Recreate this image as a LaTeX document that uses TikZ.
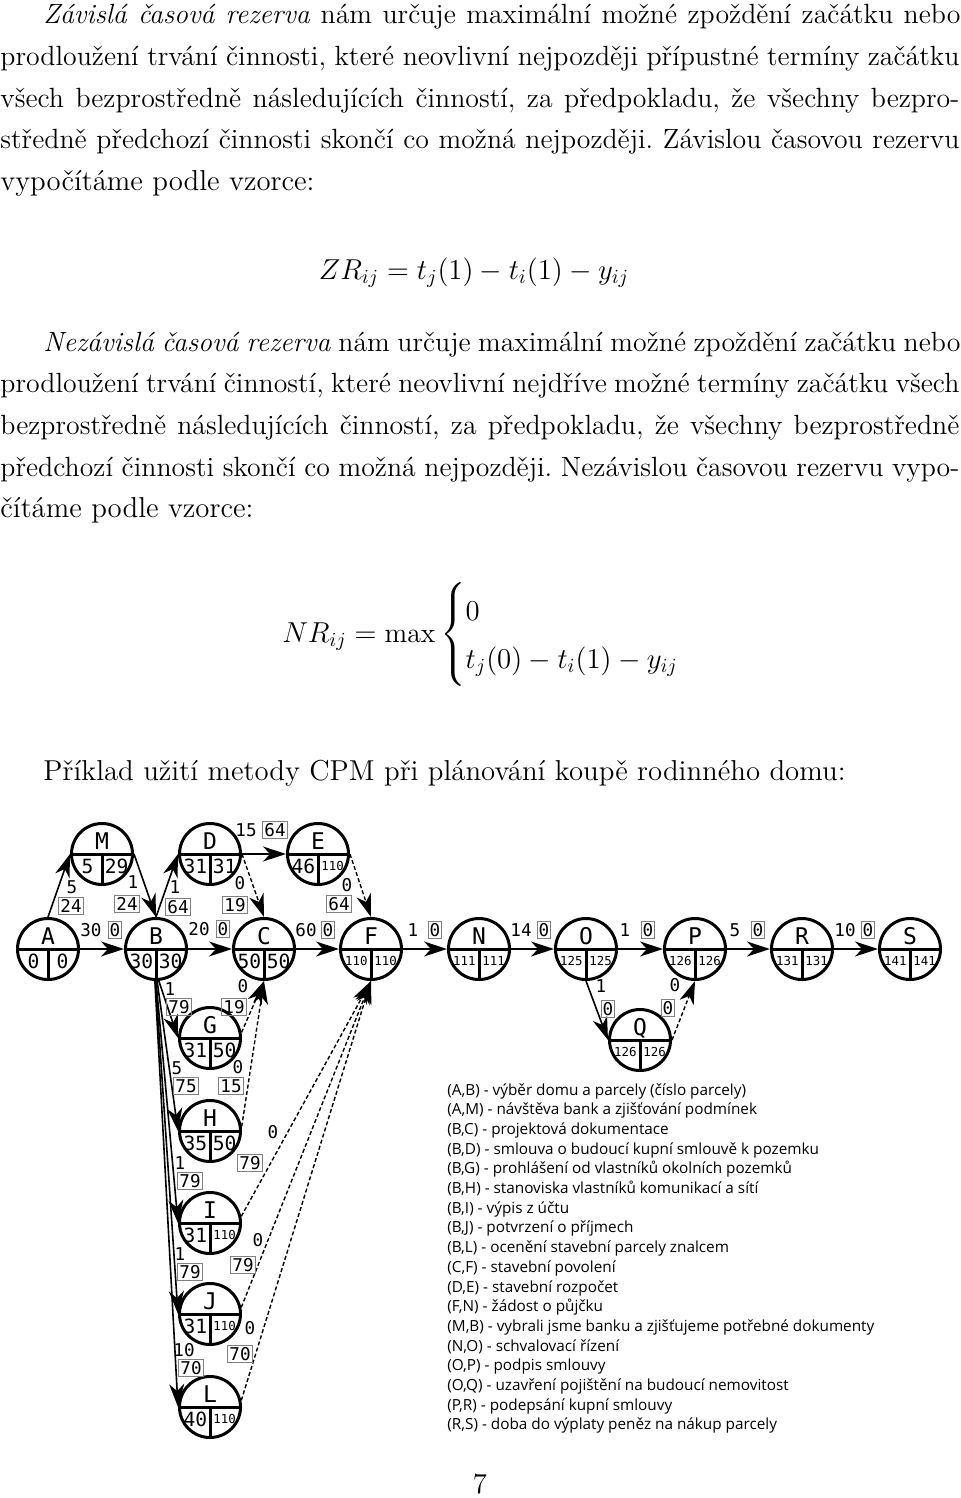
\documentclass[tikz,border=0pt]{standalone}
\usepackage{amsmath}
\usepackage{fontspec}
\newfontfamily\dvm{DejaVu Sans Mono}
\newfontfamily\osans{Open Sans}
\usetikzlibrary{arrows.meta,calc}
\newcommand\sn{\fontsize{6.2}{7}\selectfont}
\newcommand\cpmn[6]{%
  \node[cpm] (#1) at (#2,#3) {};
  \draw[cpmline] (#1.west) -- (#1.east) (#1.center) -- (#1.south);
  \node[letr] (#1l) at ([yshift=6.3pt]#1.center) {#4};
  \node[num] (#1e) at ([xshift=-7.3pt,yshift=-6pt]#1.center) {#5};
  \node[num] (#1t) at ([xshift=7.3pt,yshift=-6pt]#1.center) {#6};
}
\tikzset{
 txt/.style={anchor=base west, inner sep=0pt, font=\frenchspacing\fontsize{14.4}{20}\selectfont},
 jtxt/.style={anchor=base west, inner sep=0pt, font=\frenchspacing\fontsize{13.9}{20}\selectfont},
 cpm/.style={circle, draw, line width=1.5pt, minimum size=30.5pt, inner sep=0pt},
 cpmline/.style={line width=1.5pt},
 letr/.style={font=\dvm\fontsize{11.5}{12}\selectfont, inner sep=0pt, text depth=0pt},
 num/.style={font=\dvm\fontsize{9.8}{11}\selectfont, inner sep=0pt, text depth=0pt},
 lab/.style={font=\dvm\fontsize{8.8}{10}\selectfont, inner sep=0pt, text depth=0pt},
 blab/.style={lab, draw=black!50, line width=0.5pt, inner xsep=0.8pt, inner ysep=1.2pt, text height=6.5pt},
 arr/.style={line width=0.8pt, -{Stealth[length=11.5pt,width=7.5pt,inset=3.5pt]}},
 darr/.style={arr, line width=0.7pt, dash pattern=on 2pt off 1.2pt},
 leg/.style={anchor=base west, inner sep=0pt, font=\osans\fontsize{7.65}{9}\selectfont},
}
\begin{document}
\begin{tikzpicture}[x=0.5pt,y=-0.5pt]
\useasboundingbox (0,0) rectangle (960,1498);
% paragraph 1
\node[jtxt] (p1a) at (43,24) {\makebox[458.5pt][s]{\textit{Závislá časová rezerva} nám určuje maximální možné zpoždění začátku nebo}};
\node[jtxt] (p1b) at (0,66) {\makebox[479.5pt][s]{prodloužení trvání činnosti, které neovlivní nejpozději přípustné termíny začátku}};
\node[jtxt] (p1c) at (0,108) {\makebox[479.5pt][s]{všech bezprostředně následujících činností, za předpokladu, že všechny bezpro-}};
\node[jtxt] (p1d) at (0,149) {\makebox[479.5pt][s]{středně předchozí činnosti skončí co možná nejpozději. Závislou časovou rezervu}};
\node[txt] (p1e) at (0,191) {vypočítáme podle vzorce:};
\node[txt, anchor=base] (f1) at (474,279) {$ZR_{ij} = t_j(1) - t_i(1) - y_{ij}$};
% paragraph 2
\node[jtxt] (p2a) at (43,351) {\makebox[458.5pt][s]{\textit{Nezávislá časová rezerva} nám určuje maximální možné zpoždění začátku nebo}};
\node[jtxt] (p2b) at (0,392) {\makebox[479.5pt][s]{prodloužení trvání činností, které neovlivní nejdříve možné termíny začátku všech}};
\node[jtxt] (p2c) at (0,434) {\makebox[479.5pt][s]{bezprostředně následujících činností, za předpokladu, že všechny bezprostředně}};
\node[jtxt] (p2d) at (0,476) {\makebox[479.5pt][s]{předchozí činnosti skončí co možná nejpozději. Nezávislou časovou rezervu vypo-}};
\node[txt] (p2e) at (0,517) {čítáme podle vzorce:};
\node[jtxt] (f2) at (282,642) {$NR_{ij} = \max\begin{cases}0\\ t_j(0) - t_i(1) - y_{ij}\end{cases}$};
\node[txt] (ex) at (43,780) {Příklad užití metody CPM při plánování koupě rodinného domu:};
\node[txt, anchor=base] (pg) at (480,1493) {7};
% network nodes
\cpmn{A}{48}{949}{A}{0}{0}
\cpmn{M}{102}{854}{M}{5}{29}
\cpmn{B}{156}{949}{B}{30}{30}
\cpmn{D}{210}{854}{D}{31}{31}
\cpmn{C}{264}{949}{C}{50}{50}
\cpmn{E}{318}{854}{E}{46}{\sn 110}
\cpmn{F}{371}{949}{F}{\sn 110}{\sn 110}
\cpmn{N}{479}{949}{N}{\sn 111}{\sn 111}
\cpmn{O}{586}{949}{O}{\sn 125}{\sn 125}
\cpmn{P}{695}{949}{P}{\sn 126}{\sn 126}
\cpmn{R}{802}{949}{R}{\sn 131}{\sn 131}
\cpmn{S}{910}{949}{S}{\sn 141}{\sn 141}
\cpmn{Q}{640}{1040}{Q}{\sn 126}{\sn 126}
\cpmn{G}{210}{1038}{G}{31}{50}
\cpmn{H}{210}{1131}{H}{35}{50}
\cpmn{I}{210}{1223}{I}{31}{\sn 110}
\cpmn{J}{210}{1314}{J}{31}{\sn 110}
\cpmn{L}{210}{1407}{L}{40}{\sn 110}
% edges
\draw[arr] (A) -- (B);
\draw[arr] (A.north) -- (M.west);
\draw[arr] (M.east) -- (B.north);
\draw[arr] (B.north) -- (D.west);
\draw[arr] (B) -- (C);
\draw[arr] (D) -- (E);
\draw[darr] (D.east) -- (C.north);
\draw[arr] (C) -- (F);
\draw[darr] (E.east) -- (F.north);
\draw[arr] (F) -- (N);
\draw[arr] (N) -- (O);
\draw[arr] (O) -- (P);
\draw[arr] (P) -- (R);
\draw[arr] (R) -- (S);
\draw[arr] (O.south) -- (Q.west);
\draw[darr] (Q.east) -- (P.south);
\draw[arr] (B.-85) -- (G.west);
\draw[arr] (B.-88) -- (H.west);
\draw[arr] (B.-90) -- (I.west);
\draw[arr] (B.-91) -- (J.west);
\draw[arr] (B.-92) -- (L.west);
\draw[darr] (G.10) -- (C.south);
\draw[darr] (H.8) -- (C.south);
\draw[darr] (I.12) -- (F.south);
\draw[darr] (J.12) -- (F.south);
\draw[darr] (L.12) -- (F.south);
% edge labels
\node[lab] (lAB) at (91,930) {30};   \node[blab] (bAB) at (115,930) {0};
\node[lab] (lAM) at (72,887) {5};    \node[blab] (bAM) at (71,906) {24};
\node[lab] (lMB) at (133,882) {1};   \node[blab] (bMB) at (127,904) {24};
\node[lab] (lBD) at (175,887) {1};   \node[blab] (bBD) at (178,907) {64};
\node[lab] (lBC) at (199,929) {20};  \node[blab] (bBC) at (223,929) {0};
\node[lab] (lDE) at (246,830) {15};  \node[blab] (bDE) at (275,830) {64};
\node[lab] (lDC) at (240,883) {0};   \node[blab] (bDC) at (235,905) {19};
\node[lab] (lCF) at (306,930) {60};  \node[blab] (bCF) at (328,930) {0};
\node[lab] (lEF) at (347,885) {0};   \node[blab] (bEF) at (339,904) {64};
\node[lab] (lFN) at (413,930) {1};   \node[blab] (bFN) at (435,930) {0};
\node[lab] (lNO) at (521,930) {14};  \node[blab] (bNO) at (544,930) {0};
\node[lab] (lOP) at (625,930) {1};   \node[blab] (bOP) at (648,930) {0};
\node[lab] (lPR) at (735,930) {5};   \node[blab] (bPR) at (758,930) {0};
\node[lab] (lRS) at (845,930) {10};  \node[blab] (bRS) at (868,930) {0};
\node[lab] (lOQ) at (601,986) {1};   \node[blab] (bOQ) at (608,1009) {0};
\node[lab] (lQP) at (675,985) {0};   \node[blab] (bQP) at (668,1008) {0};
\node[lab] (lBG) at (170,989) {1};   \node[blab] (bBG) at (179,1007) {79};
\node[lab] (lGC) at (243,986) {0};   \node[blab] (bGC) at (234,1007) {19};
\node[lab] (lBH) at (177,1068) {5};  \node[blab] (bBH) at (186,1086) {75};
\node[lab] (lHC) at (238,1067) {0};  \node[blab] (bHC) at (231,1086) {15};
\node[lab] (lBI) at (180,1163) {1};  \node[blab] (bBI) at (190,1181) {79};
\node[lab] (lIF) at (273,1132) {0};  \node[blab] (bIF) at (250,1163) {79};
\node[lab] (lBJ) at (180,1254) {1};  \node[blab] (bBJ) at (190,1272) {79};
\node[lab] (lJF) at (258,1240) {0};  \node[blab] (bJF) at (243,1265) {79};
\node[lab] (lBL) at (184,1350) {10}; \node[blab] (bBL) at (191,1368) {70};
\node[lab] (lLF) at (250,1328) {0};  \node[blab] (bLF) at (240,1354) {70};
% legend
\foreach \t [count=\i] in {
 {(A,B) - výběr domu a parcely (číslo parcely)},
 {(A,M) - návštěva bank a zjišťování podmínek},
 {(B,C) - projektová dokumentace},
 {(B,D) - smlouva o budoucí kupní smlouvě k pozemku},
 {(B,G) - prohlášení od vlastníků okolních pozemků},
 {(B,H) - stanoviska vlastníků komunikací a sítí},
 {(B,I) - výpis z účtu},
 {(B,J) - potvrzení o příjmech},
 {(B,L) - ocenění stavební parcely znalcem},
 {(C,F) - stavební povolení},
 {(D,E) - stavební rozpočet},
 {(F,N) - žádost o půjčku},
 {(M,B) - vybrali jsme banku a zjišťujeme potřebné dokumenty},
 {(N,O) - schvalovací řízení},
 {(O,P) - podpis smlouvy},
 {(O,Q) - uzavření pojištění na budoucí nemovitost},
 {(P,R) - podepsání kupní smlouvy},
 {(R,S) - doba do výplaty peněz na nákup parcely}}
 \node[leg] (leg\i) at (447,{1095+(\i-1)*19.7}) {\t};
\end{tikzpicture}
\end{document}
